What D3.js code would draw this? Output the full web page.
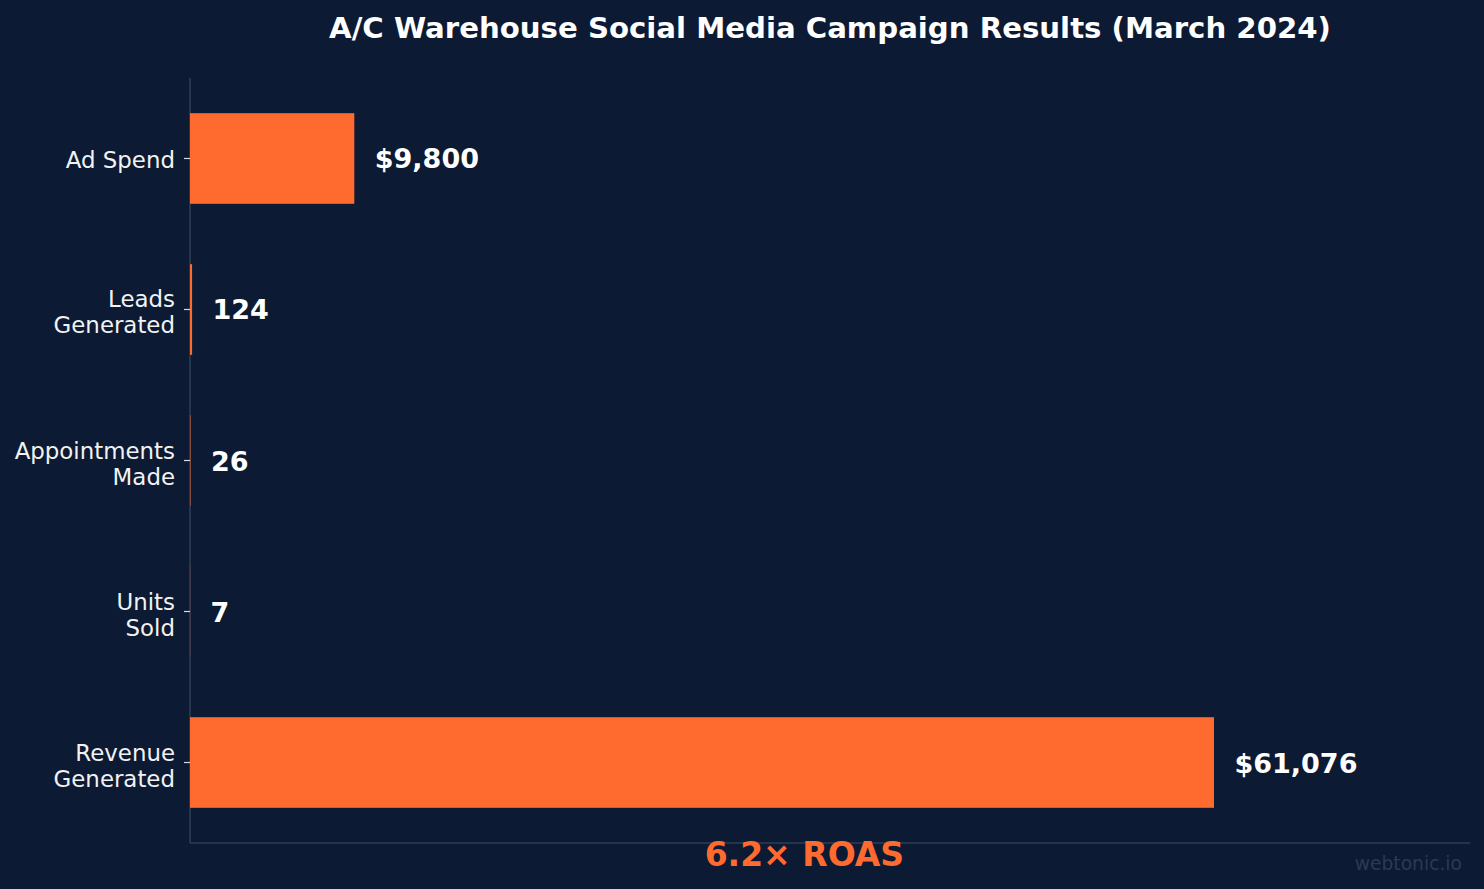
<!DOCTYPE html>
<html>
<head>
<meta charset="utf-8">
<script src="https://cdn.jsdelivr.net/npm/d3@7"></script>
<style>
  html, body { margin: 0; padding: 0; background: #0c1b33; }
  svg { display: block; font-family: "DejaVu Sans", sans-serif; }
</style>
</head>
<body>
<svg id="chart" width="1484" height="889"></svg>
<script>
// campaign funnel, March 2024
var categories = ["Ad Spend", "Leads\nGenerated", "Appointments\nMade", "Units\nSold", "Revenue\nGenerated"];
var values = [9800, 124, 26, 7, 61076];
var valueLabels = ["$9,800", "124", "26", "7", "$61,076"];
var roasText = "6.2\u00d7 ROAS";

var bg = "#0c1b33",
    orange = "#ff6b2f",
    spine = "#2e3d55";

var svg = d3.select("#chart"),
    plotLeft = 190, plotRight = 1470, plotTop = 78, plotBottom = 843;

svg.append("rect").attr("width", 1484).attr("height", 889).attr("fill", bg);

var maxVal = d3.max(values);

var x = d3.scaleLinear()
    .domain([0, maxVal * 1.25])
    .range([plotLeft, plotRight]);

var y = d3.scaleBand()
    .domain(categories)
    .range([plotTop, plotBottom])
    .paddingInner(0.4)
    .paddingOuter(0.233);

// spines (under the bars)
svg.append("line")
    .attr("x1", plotLeft).attr("x2", plotLeft)
    .attr("y1", plotTop).attr("y2", plotBottom)
    .attr("stroke", spine).attr("stroke-width", 1.6);
svg.append("line")
    .attr("x1", plotLeft).attr("x2", plotRight)
    .attr("y1", plotBottom).attr("y2", plotBottom)
    .attr("stroke", spine).attr("stroke-width", 1.6);

// bars
svg.append("g").selectAll("rect")
    .data(values)
    .enter().append("rect")
    .attr("x", x(0))
    .attr("y", function(d, i) { return y(categories[i]); })
    .attr("width", function(d) { return Math.max(x(d) - x(0), 0); })
    .attr("height", y.bandwidth())
    .attr("fill", orange);

// value labels
svg.append("g").selectAll("text")
    .data(values)
    .enter().append("text")
    .attr("x", function(d) { return x(d + maxVal * 0.02); })
    .attr("y", function(d, i) { return y(categories[i]) + y.bandwidth() / 2 + 10; })
    .attr("fill", "#ffffff")
    .attr("font-weight", "bold")
    .attr("font-size", "27px")
    .text(function(d, i) { return valueLabels[i]; });

// y axis with ticks
var yAxis = svg.append("g")
    .attr("transform", "translate(" + plotLeft + ",0)")
    .call(d3.axisLeft(y).tickSize(6).tickPadding(9));

yAxis.select(".domain").remove();
yAxis.selectAll(".tick line").attr("stroke", "#d8dce2").attr("stroke-width", 1.2);
yAxis.selectAll(".tick text")
    .attr("fill", "#f2f2f2")
    .attr("font-size", "22.9px")
    .attr("font-family", "DejaVu Sans, sans-serif")
    .attr("dy", null)
    .each(function(d) {
        var lines = d.split("\n"),
            t = d3.select(this).text(null),
            step = 26,
            first = 10 - (lines.length - 1) * step / 2 + (lines.length > 1 ? 1 : 0);
        lines.forEach(function(line, i) {
            t.append("tspan")
                .attr("x", -15)
                .attr("y", first + i * step)
                .text(line);
        });
    });

// title
svg.append("text")
    .attr("x", (plotLeft + plotRight) / 2)
    .attr("y", 38)
    .attr("text-anchor", "middle")
    .attr("fill", "#ffffff")
    .attr("font-weight", "bold")
    .attr("font-size", "29.2px")
    .text("A/C Warehouse Social Media Campaign Results (March 2024)");

// ROAS callout
svg.append("text")
    .attr("x", x(maxVal * 0.6))
    .attr("y", 866)
    .attr("text-anchor", "middle")
    .attr("fill", orange)
    .attr("font-weight", "bold")
    .attr("font-size", "33px")
    .text(roasText);

// watermark
svg.append("text")
    .attr("x", 1462)
    .attr("y", 870)
    .attr("text-anchor", "end")
    .attr("fill", "#2a3a54")
    .attr("font-size", "18.7px")
    .text("webtonic.io");
</script>
</body>
</html>
